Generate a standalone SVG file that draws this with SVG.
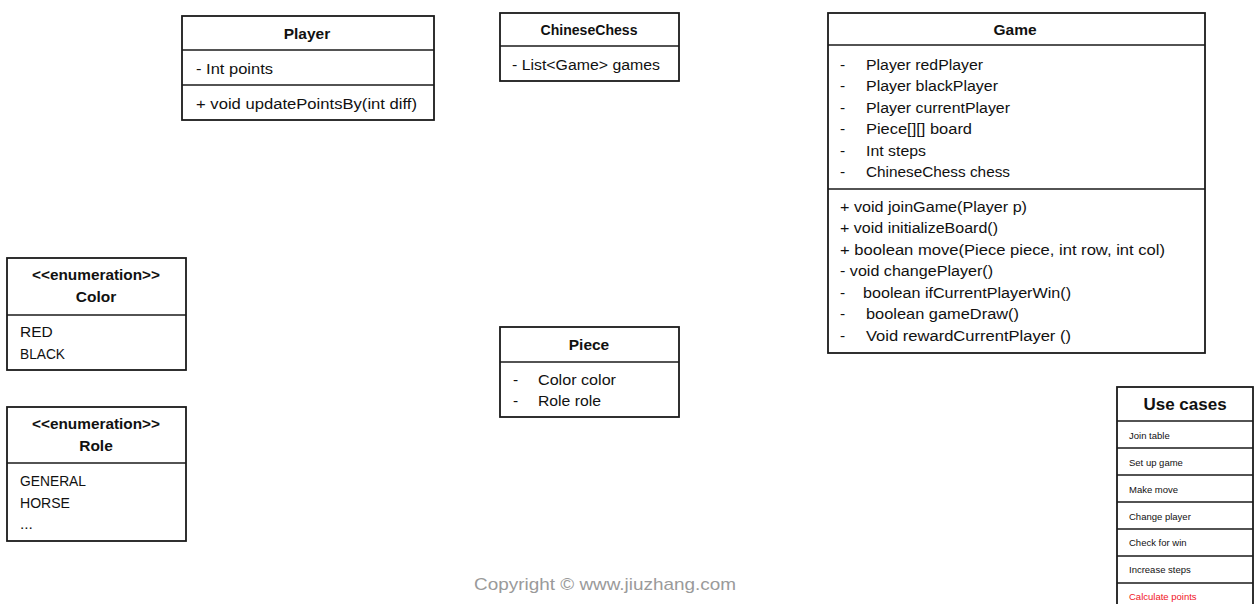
<svg xmlns="http://www.w3.org/2000/svg" width="1256" height="604" viewBox="0 0 1256 604">
<style>
.box{fill:#fff;stroke:#1a1a1a;stroke-width:1.8}
.div{stroke:#1a1a1a;stroke-width:1.6}
text{font-family:"Liberation Sans",Arial,sans-serif;fill:#111}
.t{font-size:15.5px;font-weight:bold;text-anchor:middle}
.e{font-size:14.5px;font-weight:bold;text-anchor:middle}
.m{font-size:15.5px}
.u{font-size:9.5px}
.ut{font-size:17px;font-weight:bold;text-anchor:middle}
.red{fill:#f0141e}
.copy{font-size:17px;fill:#9a9a9a}
</style>
<rect width="1256" height="604" fill="#fff"/>

<g id="player">
<rect class="box" x="182" y="16" width="252" height="104"/>
<line class="div" x1="182" y1="50" x2="434" y2="50"/>
<line class="div" x1="182" y1="85" x2="434" y2="85"/>
<text class="t" x="307" y="39">Player</text>
<text class="m" x="196" y="74" textLength="77" lengthAdjust="spacingAndGlyphs">- Int points</text>
<text class="m" x="196" y="109" textLength="221" lengthAdjust="spacingAndGlyphs">+ void updatePointsBy(int  diff)</text>
</g>

<g id="chinesechess">
<rect class="box" x="500" y="13" width="179" height="68"/>
<line class="div" x1="500" y1="46" x2="679" y2="46"/>
<text class="t" x="589" y="35" textLength="97" lengthAdjust="spacingAndGlyphs">ChineseChess</text>
<text class="m" x="512" y="70" textLength="148" lengthAdjust="spacingAndGlyphs">- List&lt;Game&gt; games</text>
</g>

<g id="game">
<rect class="box" x="828" y="13" width="377" height="340"/>
<line class="div" x1="828" y1="45" x2="1205" y2="45"/>
<line class="div" x1="828" y1="189" x2="1205" y2="189"/>
<text class="t" x="1015" y="35">Game</text>
<text class="m" x="840" y="70">-</text><text class="m" x="866" y="70" textLength="117" lengthAdjust="spacingAndGlyphs">Player redPlayer</text>
<text class="m" x="840" y="91">-</text><text class="m" x="866" y="91" textLength="132" lengthAdjust="spacingAndGlyphs">Player blackPlayer</text>
<text class="m" x="840" y="113">-</text><text class="m" x="866" y="113" textLength="144" lengthAdjust="spacingAndGlyphs">Player currentPlayer</text>
<text class="m" x="840" y="134">-</text><text class="m" x="866" y="134" textLength="106" lengthAdjust="spacingAndGlyphs">Piece[][] board</text>
<text class="m" x="840" y="156">-</text><text class="m" x="866" y="156" textLength="60" lengthAdjust="spacingAndGlyphs">Int steps</text>
<text class="m" x="840" y="177">-</text><text class="m" x="866" y="177" textLength="144" lengthAdjust="spacingAndGlyphs">ChineseChess  chess</text>
<text class="m" x="840" y="212" textLength="187" lengthAdjust="spacingAndGlyphs">+ void joinGame(Player p)</text>
<text class="m" x="840" y="233" textLength="158" lengthAdjust="spacingAndGlyphs">+ void initializeBoard()</text>
<text class="m" x="840" y="255" textLength="325" lengthAdjust="spacingAndGlyphs">+ boolean  move(Piece piece,  int row,  int  col)</text>
<text class="m" x="840" y="276" textLength="153" lengthAdjust="spacingAndGlyphs">- void changePlayer()</text>
<text class="m" x="840" y="298">-</text><text class="m" x="863" y="298" textLength="208" lengthAdjust="spacingAndGlyphs">boolean ifCurrentPlayerWin()</text>
<text class="m" x="840" y="319">-</text><text class="m" x="866" y="319" textLength="153" lengthAdjust="spacingAndGlyphs">boolean gameDraw()</text>
<text class="m" x="840" y="341">-</text><text class="m" x="866" y="341" textLength="205" lengthAdjust="spacingAndGlyphs">Void rewardCurrentPlayer  ()</text>
</g>

<g id="color">
<rect class="box" x="7" y="258" width="179" height="112"/>
<line class="div" x1="7" y1="315" x2="186" y2="315"/>
<text class="e" x="96" y="280" textLength="128" lengthAdjust="spacingAndGlyphs">&lt;&lt;enumeration&gt;&gt;</text>
<text class="t" x="96" y="302">Color</text>
<text class="m" x="20" y="337">RED</text>
<text class="m" x="20" y="359" textLength="45" lengthAdjust="spacingAndGlyphs">BLACK</text>
</g>

<g id="role">
<rect class="box" x="7" y="407" width="179" height="134"/>
<line class="div" x1="7" y1="463" x2="186" y2="463"/>
<text class="e" x="96" y="429" textLength="128" lengthAdjust="spacingAndGlyphs">&lt;&lt;enumeration&gt;&gt;</text>
<text class="t" x="96" y="451">Role</text>
<text class="m" x="20" y="486" textLength="66" lengthAdjust="spacingAndGlyphs">GENERAL</text>
<text class="m" x="20" y="508" textLength="50" lengthAdjust="spacingAndGlyphs">HORSE</text>
<text class="m" x="20" y="529">...</text>
</g>

<g id="piece">
<rect class="box" x="500" y="327" width="179" height="90"/>
<line class="div" x1="500" y1="362" x2="679" y2="362"/>
<text class="t" x="589" y="350">Piece</text>
<text class="m" x="513" y="385">-</text><text class="m" x="538" y="385" textLength="78" lengthAdjust="spacingAndGlyphs">Color color</text>
<text class="m" x="513" y="406">-</text><text class="m" x="538" y="406" textLength="63" lengthAdjust="spacingAndGlyphs">Role role</text>
</g>

<g id="usecases">
<rect class="box" x="1117" y="387" width="136" height="230"/>
<line class="div" x1="1117" y1="421" x2="1253" y2="421"/>
<line class="div" x1="1117" y1="448" x2="1253" y2="448"/>
<line class="div" x1="1117" y1="475" x2="1253" y2="475"/>
<line class="div" x1="1117" y1="502" x2="1253" y2="502"/>
<line class="div" x1="1117" y1="529" x2="1253" y2="529"/>
<line class="div" x1="1117" y1="556" x2="1253" y2="556"/>
<line class="div" x1="1117" y1="583" x2="1253" y2="583"/>
<text class="ut" x="1185" y="410">Use cases</text>
<text class="u" x="1129" y="439">Join table</text>
<text class="u" x="1129" y="466">Set up game</text>
<text class="u" x="1129" y="493">Make move</text>
<text class="u" x="1129" y="520">Change player</text>
<text class="u" x="1129" y="546">Check for win</text>
<text class="u" x="1129" y="573">Increase steps</text>
<text class="u red" x="1129" y="600">Calculate points</text>
</g>

<g id="connectors"></g>

<text class="copy" x="474" y="590" textLength="262" lengthAdjust="spacingAndGlyphs">Copyright © www.jiuzhang.com</text>
</svg>
